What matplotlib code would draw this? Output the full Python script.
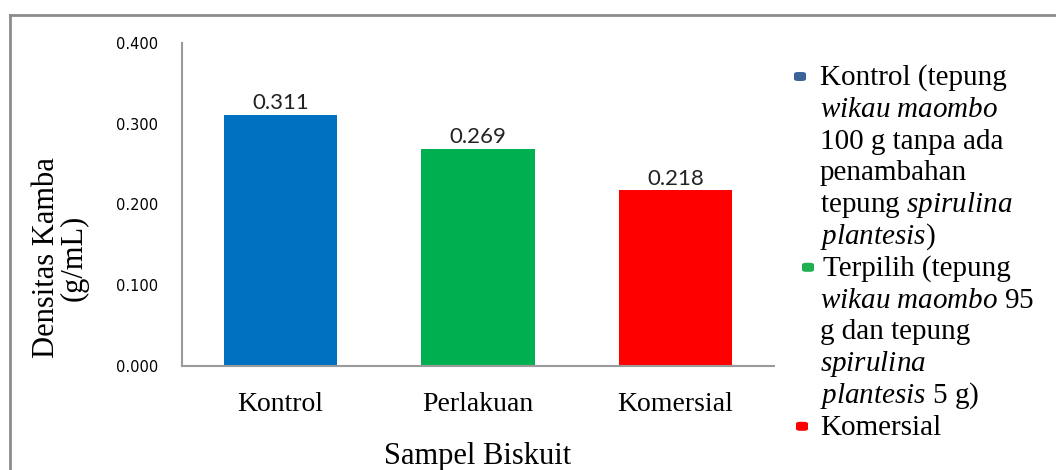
import numpy as np
import matplotlib
matplotlib.use("Agg")
import matplotlib.pyplot as plt
from matplotlib.lines import Line2D
from matplotlib.patches import FancyBboxPatch

# data
categories = ["Kontrol", "Perlakuan", "Komersial"]
values = [0.311, 0.269, 0.218]
bar_colors = ["#0070C0", "#00B050", "#FF0000"]
yticks = [0.0, 0.1, 0.2, 0.3, 0.4]

legend_entries = [
    ["Kontrol (tepung", r"$\mathit{wikau\ maombo}$", "100 g tanpa ada",
     "penambahan", r"tepung $\mathit{spirulina}$", r"$\mathit{plantesis}$)"],
    ["Terpilih (tepung", r"$\mathit{wikau\ maombo}$ 95", "g dan tepung",
     r"$\mathit{spirulina}$", r"$\mathit{plantesis}$ 5 g)"],
    ["Komersial"],
]
legend_colors = ["#3C6398", "#1DB050", "#FF0000"]

plt.rcParams["mathtext.fontset"] = "custom"
plt.rcParams["mathtext.rm"] = "Liberation Serif"
plt.rcParams["mathtext.it"] = "Liberation Serif:italic"
serif = "Liberation Serif"

W, H = 1056, 470
fig = plt.figure(figsize=(W / 100, H / 100), dpi=100)
ax = fig.add_axes([182 / W, 1 - 366 / H, 592 / W, 323 / H])

x = np.arange(len(categories))
bars = ax.bar(x, values, width=0.574, color=bar_colors)
ax.bar_label(bars, labels=["%.3f" % v for v in values], padding=1,
             fontsize=16, family="Lato", color="#222222")

ax.set_xlim(-0.5, len(categories) - 0.5)
ax.set_ylim(0, 0.4)
ax.set_yticks(yticks)
ax.set_yticklabels(["%.3f" % t for t in yticks], fontsize=10.5, family="DejaVu Sans")
ax.set_xticks(x)
ax.set_xticklabels(categories, fontsize=20, family=serif)
ax.tick_params(axis="y", length=0, pad=17)
ax.tick_params(axis="x", length=0, pad=19)
for s in ["top", "right"]:
    ax.spines[s].set_visible(False)
for s in ["left", "bottom"]:
    ax.spines[s].set_color("#9A9A9A")
    ax.spines[s].set_linewidth(1.5)

ax.set_xlabel("Sampel Biskuit", fontsize=22, family=serif, labelpad=18)
fig.text(60 / W, 1 - 258 / H, "Densitas Kamba\n(g/mL)", rotation=90,
         ha="center", va="center", fontsize=22, family=serif, linespacing=0.95)

# legend drawn by hand, one text per line
step = 31.8
y_line = 77
for color, lines, mx in zip(legend_colors, legend_entries, [800, 808, 802]):
    fig.add_artist(FancyBboxPatch(((mx - 6) / W, 1 - (y_line + 4) / H), 12 / W, 9 / H,
                                  boxstyle="round,pad=0,rounding_size=0.004",
                                  transform=fig.transFigure, color=color, lw=0))
    for i, line in enumerate(lines):
        xt = 820 if i > 0 or color != legend_colors[1] else 823
        fig.text(xt / W, 1 - (y_line + 8) / H, line, fontsize=21, family=serif,
                 ha="left", va="baseline")
        y_line += step

# outer frame
fig.add_artist(Line2D([10 / W, 10 / W], [0, 1 - 15 / H], transform=fig.transFigure,
                      color="#8C8C8C", lw=2))
fig.add_artist(Line2D([10 / W, 1], [1 - 15 / H, 1 - 15 / H], transform=fig.transFigure,
                      color="#8C8C8C", lw=2))

fig.savefig("out.png", dpi=100)
